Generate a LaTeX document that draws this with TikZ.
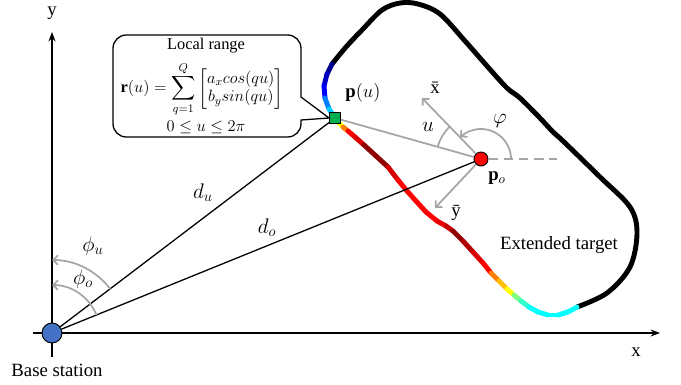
\RequirePackage{fix-cm}
\documentclass[tikz,border=0pt]{standalone}
\usepackage{amsmath}
\usepackage{fontspec}
\setmainfont{Liberation Serif}
\usepackage{tikz}
\usetikzlibrary{arrows.meta,calc}
\definecolor{guideGray}{HTML}{A6A6A6}
\definecolor{stationBlue}{HTML}{4472C4}
\definecolor{pointGreen}{HTML}{00B050}
\definecolor{jetNavy}{HTML}{00008F}
\definecolor{jetBlue}{HTML}{0000FF}
\definecolor{jetSky}{HTML}{0080FF}
\definecolor{jetCyan}{HTML}{00FFFF}
\definecolor{jetGreen}{HTML}{80FF80}
\definecolor{jetYellow}{HTML}{FFFF00}
\definecolor{jetOrange}{HTML}{FF8000}
\definecolor{jetRed}{HTML}{FF0000}
\definecolor{jetMaroon}{HTML}{8F0000}

\begin{document}
\begin{tikzpicture}[x=0.03cm,y=-0.03cm,font=\fontsize{16}{19}\selectfont,
  axisline/.style={-{Stealth[length=8pt,width=6pt]},line width=1.2pt},
  ray/.style={draw=black,line width=1.1pt},
  guide/.style={draw=guideGray,line width=1.5pt},
  guidearrow/.style={guide,-{Straight Barb[length=4pt,width=8pt]}},
  rim/.style={line width=4.2pt,line cap=round,line join=round},
  marker/.style={draw=black,line width=0.8pt,inner sep=0pt},
  lbl/.style={inner sep=1pt},
  mlbl/.style={inner sep=1pt,font=\fontsize{18}{21}\selectfont},
  calltext/.style={inner sep=0pt,font=\fontsize{14}{16}\selectfont}
]
  \useasboundingbox (0,0) rectangle (681,384);

  \coordinate (yBot) at (52,357);
  \coordinate (yTop) at (52,32);
  \coordinate (xLeft) at (33,333);
  \coordinate (xRight) at (660,333);
  \draw[axisline] (yBot) -- (yTop);
  \draw[axisline] (xLeft) -- (xRight);

  \draw[rim] plot[smooth,tension=0.55] coordinates {(577,307) (607,293) (630,267)
    (637,233) (630,207) (600,177) (563,141) (553,132) (540,118) (520,98) (507,88)
    (487,66) (465,41) (440,14) (418,4) (400,3) (382,10) (362,30) (346,47) (332,64)};
  \foreach \px/\py/\col [remember=\px as \qx (initially 332),remember=\py as \qy (initially 64)] in {
    327/74/jetNavy,324/86/jetNavy!50!jetBlue,325/98/jetBlue,329/109/jetSky,
    335/118/jetCyan!60!jetSky,339/123/jetGreen,343/127/jetYellow,348/131/jetOrange,
    355/137/jetRed,364/145/jetRed!70!jetMaroon,376/156/jetMaroon,388/167/jetMaroon,
    398/180/jetRed!60!jetMaroon,407/191/jetRed,416/201/jetRed,426/212/jetRed,
    437/221/jetRed,446/226/jetRed!80!jetMaroon,453/231/jetRed!50!jetMaroon,
    463/241/jetMaroon,473/252/jetMaroon!70!jetRed,483/263/jetRed!70!jetMaroon,
    491/273/jetRed,499/281/jetOrange,507/289/jetOrange!50!jetYellow,514/295/jetYellow,
    521/301/jetGreen,529/307/jetGreen!40!jetCyan,538/312/jetCyan,548/315/jetCyan,
    558/315/jetCyan,568/312/jetCyan,577/307/jetCyan} {
    \draw[rim,draw=\col] (\qx,\qy) -- (\px,\py);
  }

  \node[marker,circle,fill=stationBlue,minimum size=0.6cm] (bs) at (52,333) {};
  \node[marker,rectangle,fill=pointGreen,minimum size=0.33cm] (pu) at (335,118) {};
  \node[marker,circle,fill=jetRed,minimum size=0.42cm] (po) at (481,159) {};
  \coordinate (xBar) at (422,98);
  \coordinate (yBar) at (435,208);
  \coordinate (phiRef) at (557,159);

  \draw[ray] (bs) -- (pu);
  \draw[ray] (bs) -- (po);
  \draw[guide] (po) -- (pu);
  \draw[guidearrow] (po) -- (xBar);
  \draw[guidearrow] (po) -- (yBar);
  \draw[guide,dashed,dash pattern=on 8pt off 5pt] (po) -- (phiRef);

  \draw[guidearrow] (bs.center) ++(-37.2:73) arc[start angle=-37.2,end angle=-90,radius=73];
  \draw[guidearrow] (bs.center) ++(-22.1:48) arc[start angle=-22.1,end angle=-90,radius=48];
  \draw[guidearrow] (po.center) ++(0:30) arc[start angle=0,end angle=-134,radius=30];
  \draw[guide] (po.center) ++(-134:45) arc[start angle=-134,end angle=-164.3,radius=45];

  \draw[line width=1.1pt,fill=white] (pu.west) -- (301,97) [rounded corners=0.4cm]
    -- (301,35) -- (113,35) -- (113,137) -- (301,137) [sharp corners] -- (301,120) -- cycle;
  \node[calltext] (callTitle) at (206,46) {Local range};
  \node[calltext] (callSum) at (202,89)
    {$\mathbf{r}(u)=\displaystyle\sum_{q=1}^{Q}\begin{bmatrix}a_x cos(qu)\\ b_y sin(qu)\end{bmatrix}$};
  \node[calltext] (callSpan) at (206,127) {$0\leq u\leq 2\pi$};

  \node[lbl] (lblY) at (52,13) {y};
  \node[lbl] (lblX) at (636,352) {x};
  \node[lbl] (lblBs) at (57,370) {Base station};
  \node[mlbl] (lblDu) at (203,193) {$d_u$};
  \node[mlbl] (lblDo) at (267,228) {$d_o$};
  \node[mlbl] (lblPhiU) at (93,246) {$\phi_u$};
  \node[mlbl] (lblPhiO) at (83,279) {$\phi_o$};
  \node[lbl] (lblPu) at (363,93) {$\mathbf{p}(u)$};
  \node[lbl] (lblPo) at (497,178) {$\mathbf{p}_o$};
  \node[lbl] (lblXb) at (435,88) {\={x}};
  \node[lbl] (lblYb) at (456,213) {\={y}};
  \node[mlbl] (lblU) at (428,127) {$u$};
  \node[mlbl] (lblVarphi) at (500,121) {$\varphi$};
  \node[lbl] (lblTarget) at (559,245) {Extended target};
\end{tikzpicture}
\end{document}
